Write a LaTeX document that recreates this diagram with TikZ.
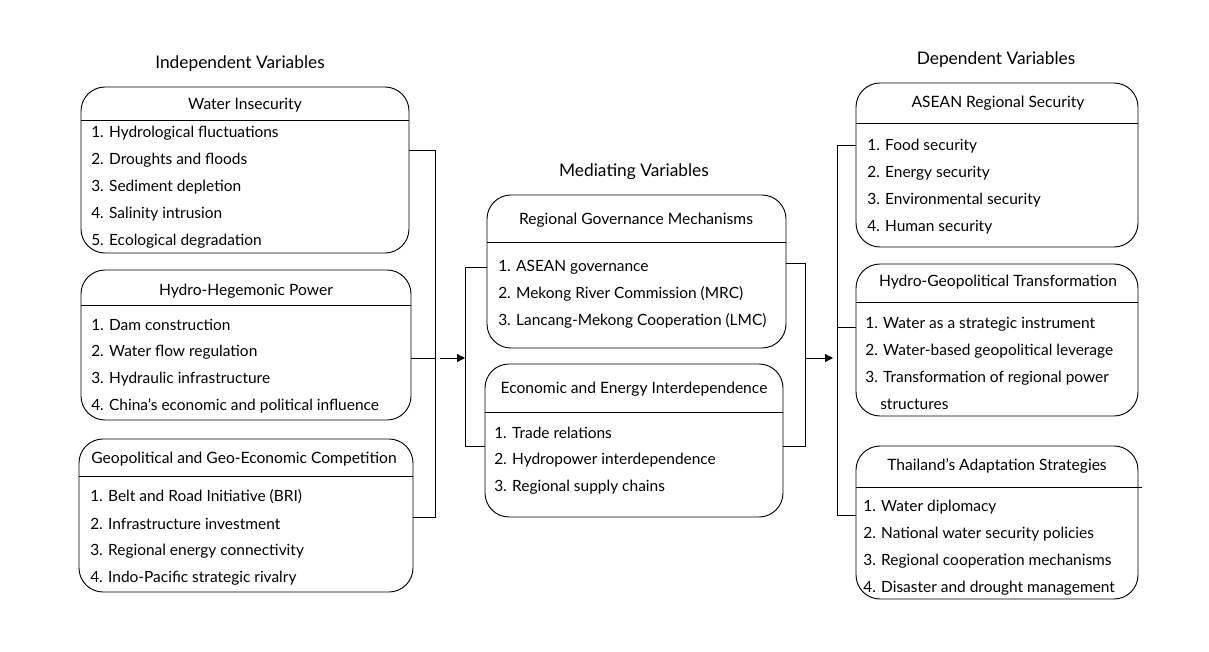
\documentclass[tikz,border=0pt]{standalone}
\usepackage{fontspec}
\setmainfont{Lato}
\usetikzlibrary{arrows.meta,fit}
\tikzstyle{varbox} = [draw=black, line width=0.7pt, rounded corners=18pt, inner sep=0pt]
\tikzstyle{head} = [font=\fontsize{11.7}{13}\selectfont, inner sep=0pt, yshift=-1.5pt]
\tikzstyle{item} = [font=\fontsize{11.6}{13}\selectfont, anchor=west, inner sep=0pt, yshift=-1.5pt]
\tikzstyle{group} = [font=\fontsize{13}{15}\selectfont, inner sep=0pt, yshift=-1.5pt]
\tikzstyle{link} = [line width=0.7pt]
\tikzstyle{arrow} = [line width=0.7pt, -{Triangle[length=6pt,width=6pt]}]

\begin{document}
\begin{tikzpicture}[x=0.75pt, y=-0.75pt]
  \useasboundingbox (0,0) rectangle (1209,652);

  % group titles
  \node[group] (indep) at (240,62) {Independent Variables};
  \node[group] (medi) at (634,170) {Mediating Variables};
  \node[group] (dep) at (996,58) {Dependent Variables};

  % independent variables
  \node[varbox, fit={(81,87) (409,253)}] (wi) {};
  \node[head] (wiT) at (245,103) {Water Insecurity};
  \draw[link] (81,120) -- (409,120);
  \foreach \t [count=\i] in {Hydrological fluctuations, Droughts and floods, Sediment depletion, Salinity intrusion, Ecological degradation}
    \node[item] (wi\i) at (91,{104+27*\i}) {\i. \t};

  \node[varbox, fit={(81,270) (411,420)}] (hh) {};
  \node[head] (hhT) at (246,289) {Hydro-Hegemonic Power};
  \draw[link] (81,305) -- (411,305);
  \foreach \t [count=\i] in {Dam construction, Water flow regulation, Hydraulic infrastructure, China’s economic and political influence}
    \node[item] (hh\i) at (91,{296+27*\i}) {\i. \t};

  \node[varbox, fit={(79,439) (413,592)}] (gc) {};
  \node[head] (gcT) at (244,457) {Geopolitical and Geo-Economic Competition};
  \draw[link] (79,476) -- (413,476);
  \foreach \t [count=\i] in {Belt and Road Initiative (BRI), Infrastructure investment, Regional energy connectivity, Indo-Pacific strategic rivalry}
    \node[item] (gc\i) at (90,{468+27*\i}) {\i. \t};

  % mediating variables
  \node[varbox, fit={(487,195) (786,348)}] (rg) {};
  \node[head] (rgT) at (636,218) {Regional Governance Mechanisms};
  \draw[link] (487,242) -- (786,242);
  \foreach \t [count=\i] in {ASEAN governance, Mekong River Commission (MRC), Lancang-Mekong Cooperation (LMC)}
    \node[item] (rg\i) at (498,{238+27*\i}) {\i. \t};

  \node[varbox, fit={(485,364) (783,517)}] (ee) {};
  \node[head] (eeT) at (634,387) {Economic and Energy Interdependence};
  \draw[link] (485,412) -- (783,412);
  \foreach \t [count=\i] in {Trade relations, Hydropower interdependence, Regional supply chains}
    \node[item] (ee\i) at (494,{404+27*\i}) {\i. \t};

  % dependent variables
  \node[varbox, fit={(856,83) (1138,247)}] (ars) {};
  \node[head] (arsT) at (998,101) {ASEAN Regional Security};
  \draw[link] (856,123) -- (1138,123);
  \foreach \t [count=\i] in {Food security, Energy security, Environmental security, Human security}
    \node[item] (ars\i) at (867,{117+27*\i}) {\i. \t};

  \node[varbox, fit={(856,264) (1138,416)}] (hgt) {};
  \node[head] (hgtT) at (998,280) {Hydro-Geopolitical Transformation};
  \draw[link] (856,302) -- (1138,302);
  \foreach \t [count=\i] in {Water as a strategic instrument, Water-based geopolitical leverage, Transformation of regional power}
    \node[item] (hgt\i) at (865,{295+27*\i}) {\i. \t};
  \node[item] (hgt4) at (880,402) {structures};

  \node[varbox, fit={(856,446) (1138,599)}] (tas) {};
  \node[head] (tasT) at (997,464) {Thailand’s Adaptation Strategies};
  \draw[link] (856,487) -- (1142,487);
  \foreach \t [count=\i] in {Water diplomacy, National water security policies, Regional cooperation mechanisms, Disaster and drought management}
    \node[item] (tas\i) at (863,{478+27*\i}) {\i. \t};

  % connectors
  \coordinate (lbar) at (435,358);
  \coordinate (lstart) at (440,358);
  \coordinate (mbar) at (465,358);
  \coordinate (rbar) at (805,358);
  \coordinate (rtip) at (833,358);
  \coordinate (dbar) at (837,327);

  \draw[link] (wi.east |- 0,150) -| (lbar |- 0,517) -- (gc.east |- 0,517);
  \draw[link] (hh.east |- lbar) -- (lbar);
  \draw[arrow] (lstart) -- (mbar);
  \draw[link] (rg.west |- 0,267) -| (mbar |- 0,446) -- (ee.west |- 0,446);

  \draw[link] (rg.east |- 0,263) -| (rbar |- 0,446) -- (ee.east |- 0,446);
  \draw[arrow] (rbar) -- (rtip);
  \draw[link] (ars.west |- 0,145) -| (dbar |- 0,515) -- (tas.west |- 0,515);
  \draw[link] (dbar) -- (hgt.west |- dbar);
\end{tikzpicture}
\end{document}
